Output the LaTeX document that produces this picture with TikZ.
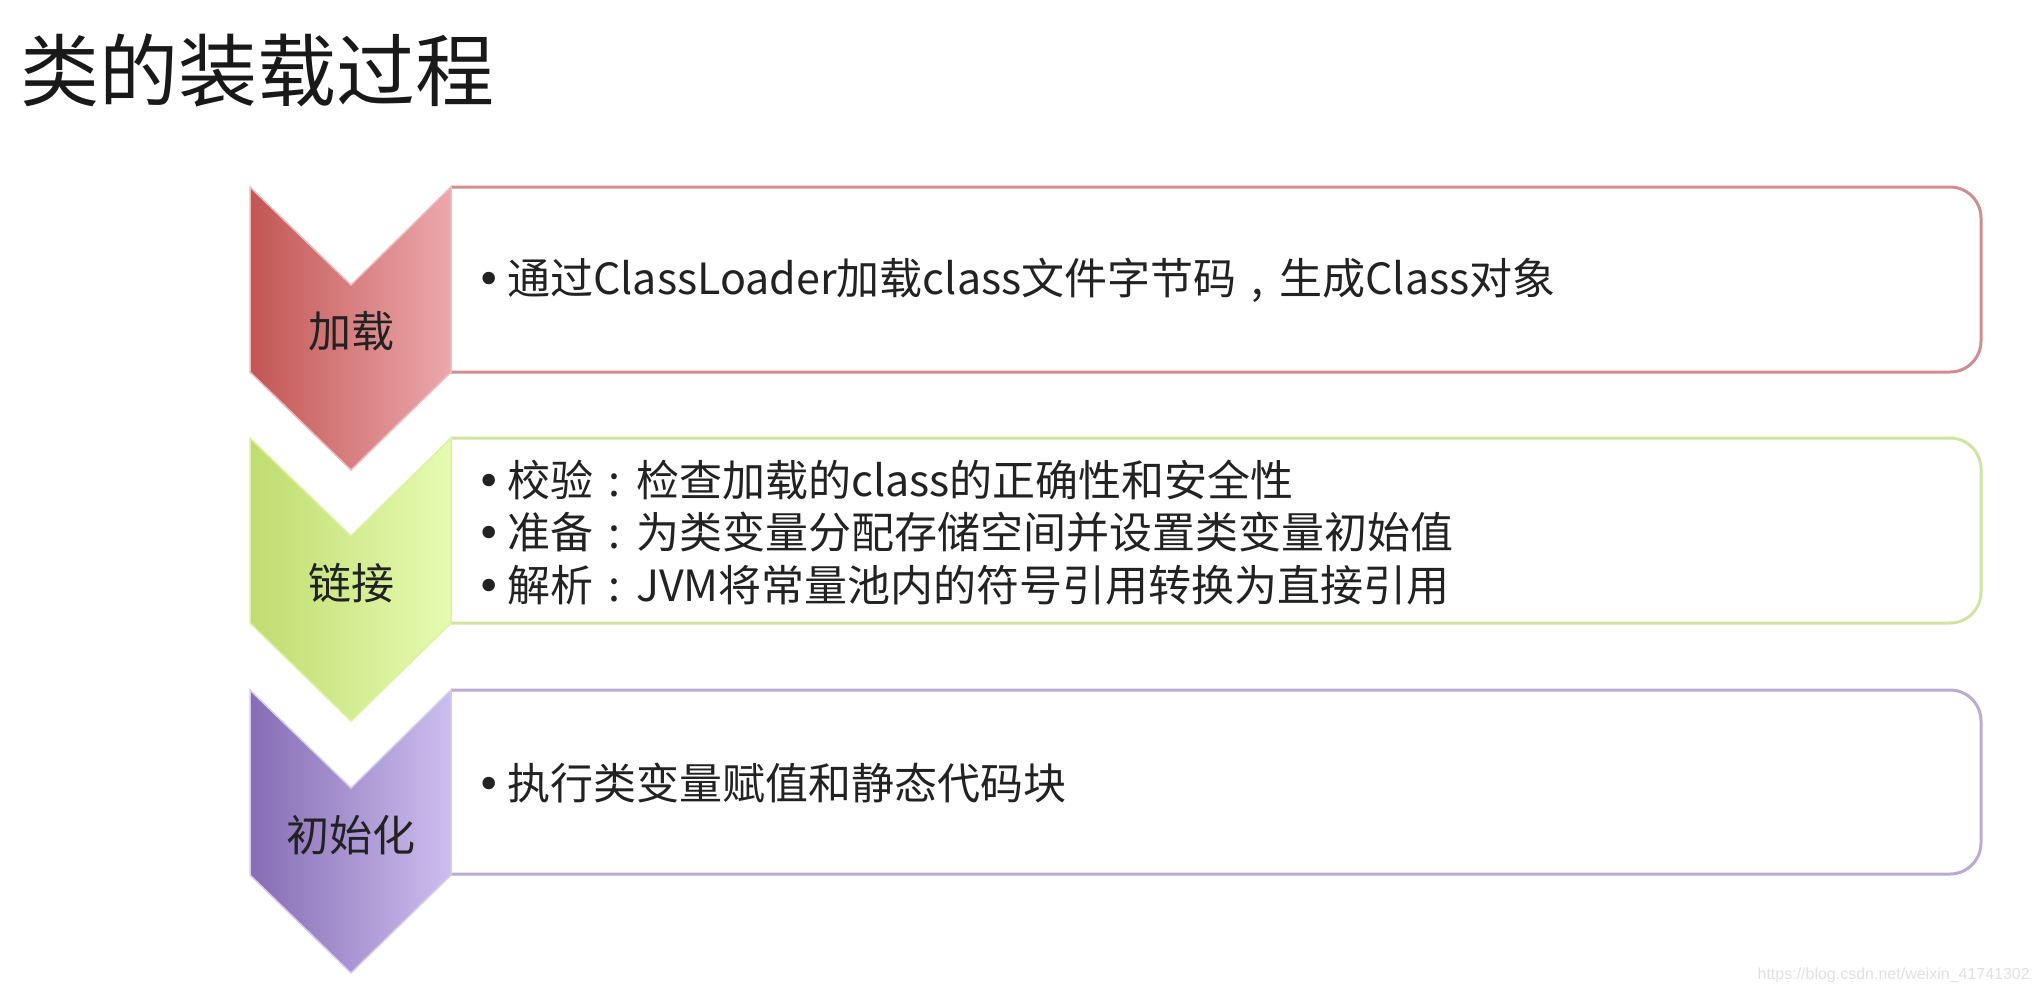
\documentclass[tikz,border=0pt]{standalone}
\usepackage{fontspec}
\setmainfont{Noto Sans CJK SC}
\newfontfamily\wmfont{Liberation Sans}
\newfontfamily\djv{DejaVu Sans}
\definecolor{redL}{RGB}{194,86,84}
\definecolor{redR}{RGB}{236,168,172}
\definecolor{redB}{RGB}{208,140,142}
\definecolor{grnL}{RGB}{192,220,112}
\definecolor{grnR}{RGB}{230,251,178}
\definecolor{grnB}{RGB}{206,228,160}
\definecolor{purL}{RGB}{134,108,180}
\definecolor{purR}{RGB}{204,190,238}
\definecolor{purB}{RGB}{186,170,214}
\definecolor{txt}{RGB}{34,34,34}
\newcommand\itembul{\makebox[31pt][l]{\djv •}}
\newcommand\fwcolon{\makebox[1em][c]{:}}
\newcommand\fwcomma{\makebox[1em][c]{,}}
\begin{document}
\begin{tikzpicture}[x=1pt,y=-1pt,
  boxline/.style={line width=3pt, rounded corners=31pt},
  chev/.style={shading=axis, shading angle=90, line width=1.5pt},
  lbl/.style={inner sep=0pt, text=txt, font=\fontsize{43}{50}\selectfont},
  body/.style={anchor=west, inner sep=0pt, text=txt, font=\fontsize{43}{50}\selectfont}]
\useasboundingbox (0,0) rectangle (2038,994);

\node[anchor=west, inner sep=0pt, text=black!90, font=\fontsize{79}{90}\selectfont] (title) at (20,71) {类的装载过程};

% stage 1
\draw[boxline, draw=redB] (451,187) -- (1981,187) -- (1981,372) -- (451,372);
\draw[chev, left color=redL, right color=redR, draw=redR!80!white]
  (250,187) -- (351,285) -- (451,187) -- (451,372) -- (351,470) -- (250,372) -- cycle;
\node[lbl] (s1) at (351,331) {加载};
\node[body] (t1) at (476,280) {\itembul 通过ClassLoader加载class文件字节码\fwcomma 生成Class对象};

% stage 2
\draw[boxline, draw=grnB] (451,438) -- (1981,438) -- (1981,623) -- (451,623);
\draw[chev, left color=grnL, right color=grnR, draw=grnR!70!grnL]
  (250,438) -- (351,536) -- (451,438) -- (451,623) -- (351,721) -- (250,623) -- cycle;
\node[lbl] (s2) at (351,583) {链接};
\node[body] (t2a) at (476,480) {\itembul 校验\fwcolon 检查加载的class的正确性和安全性};
\node[body] (t2b) at (476,532) {\itembul 准备\fwcolon 为类变量分配存储空间并设置类变量初始值};
\node[body] (t2c) at (476,585) {\itembul 解析\fwcolon JVM将常量池内的符号引用转换为直接引用};

% stage 3
\draw[boxline, draw=purB] (451,690) -- (1981,690) -- (1981,874) -- (451,874);
\draw[chev, left color=purL, right color=purR, draw=purR!80!white]
  (250,690) -- (351,788) -- (451,690) -- (451,875) -- (351,973) -- (250,875) -- cycle;
\node[lbl] (s3) at (351,835) {初始化};
\node[body] (t3) at (476,783) {\itembul 执行类变量赋值和静态代码块};

\node[anchor=east, inner sep=0pt, text=black!12, font=\wmfont\fontsize{16}{19}\selectfont] (wm) at (2030,975) {https://blog.csdn.net/weixin\_41741302};
\end{tikzpicture}
\end{document}
